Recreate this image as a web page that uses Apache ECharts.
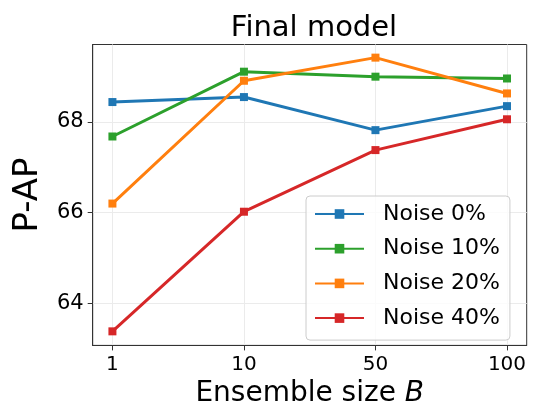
<!DOCTYPE html>
<html><head><meta charset="utf-8">
<script src="https://cdn.jsdelivr.net/npm/echarts@6/dist/echarts.min.js"></script>
<style>html,body{margin:0;padding:0;background:#fff}#c{width:535px;height:413px}</style>
</head><body><div id="c"></div>
<script>
const categories = ['1', '10', '50', '100'];
const yTicks = [64, 66, 68];
const noise0 = [68.44, 68.55, 67.82, 68.35];
const noise10 = [67.68, 69.11, 69.00, 68.96];
const noise20 = [66.20, 68.91, 69.42, 68.63];
const noise40 = [63.38, 66.02, 67.38, 68.06];
const seriesNames = ['Noise 0%', 'Noise 10%', 'Noise 20%', 'Noise 40%'];
const seriesColors = ['#1f77b4', '#2ca02c', '#ff7f0e', '#d62728'];
const seriesData = [noise0, noise10, noise20, noise40];

const font = 'DejaVu Sans';
const chart = echarts.init(document.getElementById('c'), null, {renderer: 'canvas'});
chart.setOption({
  animation: false,
  textStyle: {fontFamily: font},
  title: {
    text: 'Final model', left: 309, top: 9, textAlign: 'center',
    textStyle: {fontFamily: font, fontSize: 29, fontWeight: 'normal', color: '#000'}
  },
  grid: {left: 92.7, right: 8.3, top: 44.5, bottom: 61.3, show: true, borderColor: '#333', borderWidth: 1, backgroundColor: 'transparent'},
  legend: {
    orient: 'vertical', left: 306, top: 196,
    data: seriesNames,
    itemWidth: 49, itemHeight: 12, itemGap: 12.7,
    padding: [7, 10, 11, 8],
    backgroundColor: 'rgba(255,255,255,0.8)', borderColor: '#cccccc', borderWidth: 1, borderRadius: 4,
    textStyle: {fontFamily: font, fontSize: 22, lineHeight: 22, color: '#000', padding: [0, 0, 0, 14]}
  },
  xAxis: {
    type: 'value', min: -0.15, max: 3.15,
    name: 'Ensemble size {i|B}', nameLocation: 'middle', nameGap: 34.6,
    nameTextStyle: {fontFamily: font, fontSize: 28, color: '#000',
      rich: {i: {fontFamily: font, fontSize: 28, fontStyle: 'italic', color: '#000'}}},
    axisLine: {show: true, onZero: false, lineStyle: {color: '#333', width: 1}},
    axisTick: {show: true, length: 5, lineStyle: {color: '#333'}, customValues: [0, 1, 2, 3]},
    axisLabel: {fontFamily: font, fontSize: 20, color: '#000', margin: 9,
      customValues: [0, 1, 2, 3], formatter: v => categories[Math.round(v)]},
    splitLine: {show: true, lineStyle: {color: '#ebebeb', width: 1}}
  },
  yAxis: {
    type: 'value', min: 63.07, max: 69.71,
    name: 'P-AP', nameLocation: 'middle', nameGap: 48, nameRotate: 90,
    nameTextStyle: {fontFamily: font, fontSize: 34, color: '#000'},
    axisLine: {show: true, onZero: false, lineStyle: {color: '#333', width: 1}},
    axisTick: {show: true, length: 5, lineStyle: {color: '#333'}, customValues: yTicks},
    axisLabel: {fontFamily: font, fontSize: 21, color: '#000', margin: 9, customValues: yTicks},
    splitLine: {show: true, lineStyle: {color: '#ebebeb', width: 1}}
  },
  series: seriesData.map((d, i) => ({
    name: seriesNames[i], type: 'line',
    data: d.map((v, j) => [j, v]),
    symbol: 'rect', symbolSize: 8,
    lineStyle: {color: seriesColors[i], width: 3},
    itemStyle: {color: seriesColors[i]},
    z: 2 + i
  }))
});
</script></body></html>
